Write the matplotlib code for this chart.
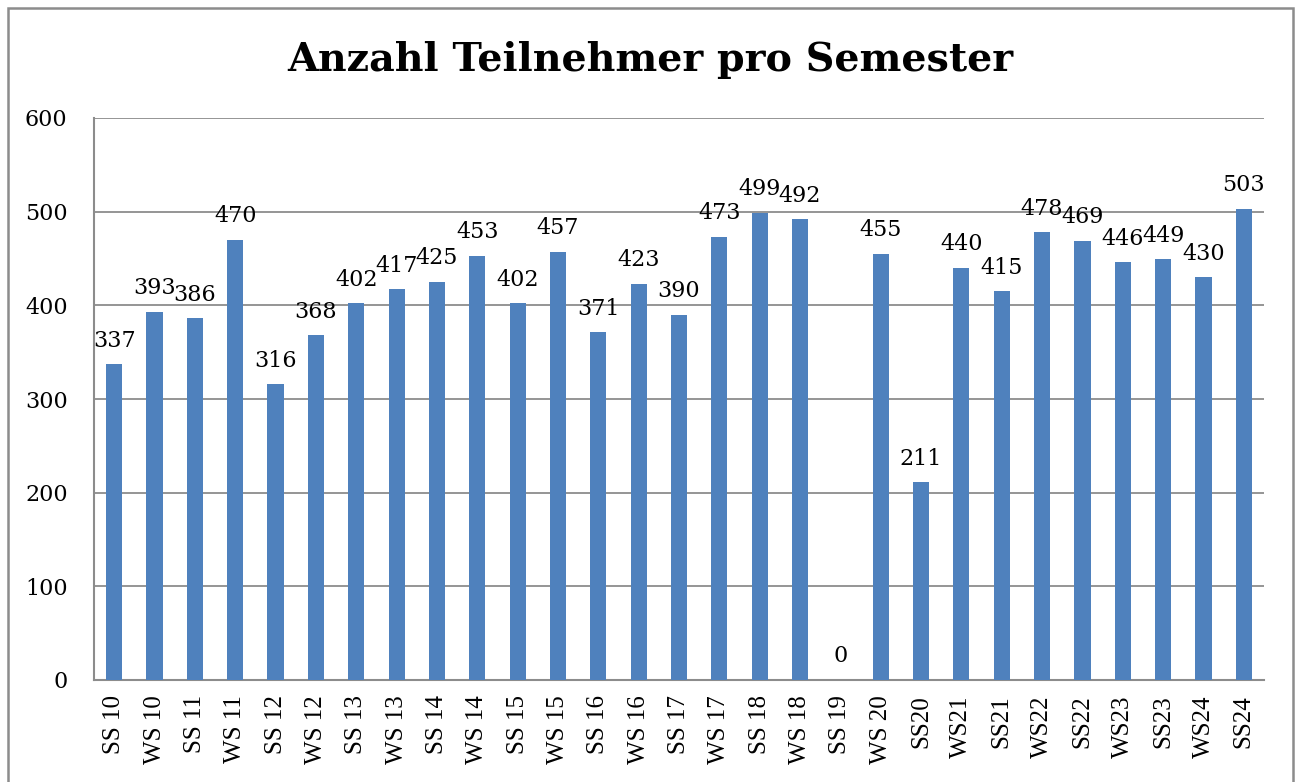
import matplotlib.pyplot as plt
from matplotlib.patches import Rectangle

BAR = "#4f81bd"
GRID = "#8c8c8c"
FRAME = "#8c8c8c"

semesters = ["SS 10", "WS 10", "SS 11", "WS 11", "SS 12", "WS 12", "SS 13", "WS 13",
             "SS 14", "WS 14", "SS 15", "WS 15", "SS 16", "WS 16", "SS 17", "WS 17",
             "SS 18", "WS 18", "SS 19", "WS 20", "SS20", "WS21", "SS21", "WS22",
             "SS22", "WS23", "SS23", "WS24", "SS24"]
teilnehmer = [337, 393, 386, 470, 316, 368, 402, 417, 425, 453, 402, 457, 371, 423,
              390, 473, 499, 492, 0, 455, 211, 440, 415, 478, 469, 446, 449, 430, 503]
yticks = [0, 100, 200, 300, 400, 500, 600]

plt.rcParams["font.family"] = ["Liberation Serif", "DejaVu Serif"]

fig = plt.figure(figsize=(12.98, 7.82), dpi=100)
ax = fig.add_axes([94 / 1298, 1 - 680 / 782, 1170 / 1298, 562 / 782])

# outer chart frame (bottom edge runs off the image)
fig.patches.append(Rectangle((8 / 1298, -0.05), 1285 / 1298, 1.05 - 8 / 782,
                             transform=fig.transFigure, fill=False,
                             edgecolor=FRAME, linewidth=1.8))

x = range(len(semesters))
ax.bar(x, teilnehmer, width=0.4, color=BAR, zorder=3)

for xi, v in zip(x, teilnehmer):
    ax.annotate(str(v), (xi, v), xytext=(0, 9), textcoords="offset points",
                ha="center", va="bottom", fontsize=16, color="black",
                family="DejaVu Serif")

ax.set_xlim(-0.5, len(semesters) - 0.5)
ax.set_ylim(0, 600)
ax.set_yticks(yticks)
ax.set_xticks(list(x))
ax.set_xticklabels(semesters, rotation=90, fontsize=18)
ax.set_yticklabels([str(t) for t in yticks], fontsize=16, family="DejaVu Serif")
ax.tick_params(axis="y", length=0, pad=19)
ax.tick_params(axis="x", length=0, pad=11)

ax.yaxis.grid(True, color=GRID, linewidth=1.3, zorder=0)
for s in ["top", "right"]:
    ax.spines[s].set_visible(False)
for s in ["left", "bottom"]:
    ax.spines[s].set_color(GRID)
    ax.spines[s].set_linewidth(1.5)

fig.text(650 / 1298, 1 - 60 / 782, "Anzahl Teilnehmer pro Semester",
         ha="center", va="center", fontsize=28.5, fontweight="bold",
         family="DejaVu Serif")

fig.savefig("out.png", dpi=100, facecolor="white")
